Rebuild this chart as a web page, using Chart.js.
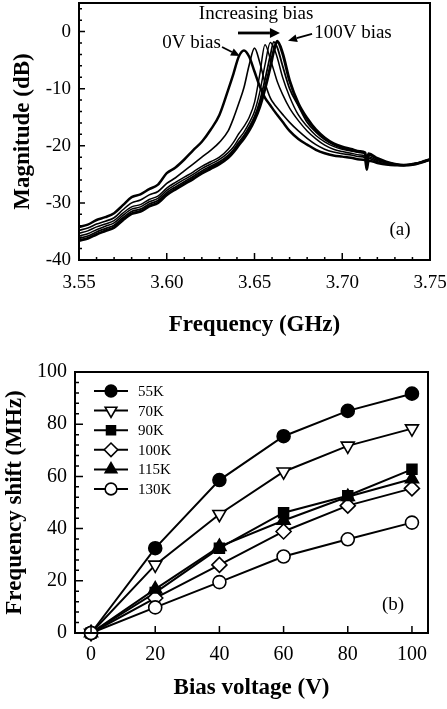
<!DOCTYPE html>
<html><head><meta charset="utf-8">
<script src="https://cdn.jsdelivr.net/npm/chart.js@4.4.1/dist/chart.umd.min.js"></script>
<style>
html,body{margin:0;padding:0;background:#fff;}
#wrap{position:relative;width:447px;height:709px;overflow:hidden;background:#fff;}
canvas{position:absolute;left:0;}
#ca{top:0;} #cb{top:345px;}
</style></head><body>
<div id="wrap"><canvas id="ca" width="447" height="345"></canvas><canvas id="cb" width="447" height="364"></canvas></div>
<script>
// ---------- Panel (a): magnitude vs frequency ----------
const freqGHz = [3.550,3.555,3.560,3.565,3.570,3.575,3.580,3.585,3.590,3.595,3.600,3.605,3.610,3.615,3.620,3.625,3.630,3.635,
  3.638,3.641,3.644,3.647,3.650,3.653,3.656,3.659,
  3.661,3.663,3.666,
  3.670,3.675,3.680,3.685,3.690,3.695,3.700,3.705,3.710,
  3.713,3.714,3.715,
  3.720,3.725,3.730,3.735,3.740,3.745,3.750];
const mag0V = [-34.2,-33.8,-33.0,-32.5,-31.8,-30.4,-29.0,-28.5,-27.6,-26.8,-24.8,-23.8,-22.4,-20.8,-19.3,-17.2,-14.6,-10.2,
  -7.4,-4.4,-3.3,-4.4,-7.0,-9.6,-11.6,-12.9,
  -13.8,-14.6,-15.8,
  -17.4,-18.8,-19.8,-20.7,-21.3,-21.7,-21.9,-22.1,-22.4,
  -22.5,-24.2,-22.6,
  -23.0,-23.3,-23.4,-23.4,-23.2,-22.9,-22.4];
const mag20V = [-34.8,-34.4,-33.7,-33.2,-32.6,-31.2,-30.0,-29.5,-28.6,-28.0,-26.6,-25.6,-24.4,-23.2,-22.0,-20.8,-19.4,-17.4,
  -15.2,-12.6,-9.8,-5.8,-2.9,-5.4,-9.0,-11.6,
  -12.6,-13.4,-14.5,
  -15.9,-17.4,-18.7,-19.8,-20.6,-21.1,-21.4,-21.6,-21.9,
  -22.1,-23.9,-22.2,
  -22.8,-23.2,-23.4,-23.4,-23.2,-22.9,-22.4];
const mag40V = [-35.3,-34.9,-34.2,-33.7,-33.1,-31.8,-30.7,-30.3,-29.4,-28.8,-27.4,-26.4,-25.5,-24.6,-23.6,-22.8,-22.0,-20.6,
  -19.4,-17.9,-16.6,-15.0,-12.4,-7.5,-2.3,-4.8,
  -6.8,-8.8,-11.0,
  -13.4,-15.6,-17.4,-18.8,-19.9,-20.6,-21.0,-21.3,-21.6,
  -21.8,-23.6,-21.9,
  -22.6,-23.0,-23.3,-23.4,-23.2,-22.9,-22.4];
const mag60V = [-35.8,-35.4,-34.7,-34.1,-33.5,-32.2,-31.1,-30.7,-29.8,-29.2,-27.8,-26.8,-25.9,-25.0,-24.0,-23.2,-22.4,-21.2,
  -20.2,-18.8,-17.6,-16.0,-14.0,-10.6,-5.8,-1.9,
  -2.8,-4.6,-8.0,
  -11.4,-14.6,-16.6,-18.2,-19.3,-20.1,-20.6,-20.9,-21.2,
  -21.4,-23.3,-21.6,
  -22.4,-22.9,-23.2,-23.4,-23.3,-22.9,-22.4];
const mag80V = [-36.2,-35.8,-35.1,-34.5,-33.9,-32.6,-31.5,-31.1,-30.2,-29.6,-28.2,-27.2,-26.3,-25.4,-24.4,-23.6,-22.8,-21.7,
  -20.7,-19.4,-18.2,-16.7,-14.9,-12.2,-8.4,-4.2,
  -1.8,-2.8,-6.0,
  -10.0,-13.0,-15.9,-17.6,-18.9,-19.8,-20.4,-20.8,-21.1,
  -21.3,-23.1,-21.5,
  -22.3,-22.9,-23.2,-23.4,-23.3,-22.9,-22.4];
const mag100V = [-36.6,-36.2,-35.5,-34.9,-34.3,-33.0,-31.9,-31.5,-30.6,-30.0,-28.6,-27.6,-26.7,-25.8,-24.8,-24.0,-23.2,-22.1,
  -21.1,-19.9,-18.7,-17.3,-15.5,-13.2,-10.0,-6.2,
  -3.4,-1.7,-3.8,
  -8.6,-12.6,-15.2,-17.2,-18.6,-19.6,-20.2,-20.6,-21.0,
  -21.2,-23.0,-21.4,
  -22.2,-22.8,-23.2,-23.4,-23.3,-22.9,-22.4];
const biasLabels = ['0V','20V','40V','60V','80V','100V'];
const xTicksA = [3.55,3.60,3.65,3.70,3.75];
const yTicksA = [-40,-30,-20,-10,0];

// ---------- Panel (b): frequency shift vs bias ----------
const biasVoltage = [0,20,40,60,80,100];
const tempLabels = ['55K','70K','90K','100K','115K','130K'];
const shift55K  = [0,32.5,58.6,75.4,85.1,91.7];
const shift70K  = [0,26.1,45.5,61.8,71.7,78.3];
const shift90K  = [0,15.5,32.5,46.1,52.6,62.7];
const shift100K = [0,13.4,26.1,38.9,48.8,55.4];
const shift115K = [0,16.8,33.1,43.1,52.2,59.0];
const shift130K = [0,9.8,19.5,29.3,35.9,42.3];
const xTicksB = [0,20,40,60,80,100];
const yTicksB = [0,20,40,60,80,100];

// ---------- helpers ----------
const SERIF = "'Liberation Serif','Times New Roman',serif";
Chart.defaults.font.family = SERIF;
Chart.defaults.color = '#000';

function minorValues(min, max, step, majors){
  const out = [];
  const n = Math.round((max - min) / step);
  for (let i = 0; i <= n; i++) {
    const v = +(min + i * step).toFixed(6);
    if (!majors.some(m => Math.abs(m - v) < step / 10)) out.push(v);
  }
  return out;
}
function frameTicks(cfg){
  return {
    id: 'frameTicks',
    afterDraw(chart){
      const {ctx, chartArea: a, scales: {x, y}} = chart;
      ctx.save();
      ctx.strokeStyle = '#000';
      ctx.lineWidth = cfg.frame;
      ctx.strokeRect(a.left, a.top, a.right - a.left, a.bottom - a.top);
      ctx.lineWidth = cfg.tickW;
      ctx.beginPath();
      cfg.xMajor.forEach(v => { const p = x.getPixelForValue(v); ctx.moveTo(p, a.bottom); ctx.lineTo(p, a.bottom - cfg.xMajLen); });
      cfg.xMinor.forEach(v => { const p = x.getPixelForValue(v); ctx.moveTo(p, a.bottom); ctx.lineTo(p, a.bottom - cfg.minLen); });
      cfg.yMajor.forEach(v => { const p = y.getPixelForValue(v); ctx.moveTo(a.left, p); ctx.lineTo(a.left + cfg.yMajLen, p); });
      cfg.yMinor.forEach(v => { const p = y.getPixelForValue(v); ctx.moveTo(a.left, p); ctx.lineTo(a.left + cfg.minLen, p); });
      ctx.stroke();
      ctx.restore();
    }
  };
}
function arrow(ctx, x0, y0, x1, y1, lw, hl, hw){
  const ang = Math.atan2(y1 - y0, x1 - x0);
  const bx = x1 - hl * Math.cos(ang), by = y1 - hl * Math.sin(ang);
  ctx.lineWidth = lw;
  ctx.beginPath(); ctx.moveTo(x0, y0); ctx.lineTo(bx, by); ctx.stroke();
  ctx.beginPath(); ctx.moveTo(x1, y1);
  ctx.lineTo(bx + hw / 2 * Math.sin(ang), by - hw / 2 * Math.cos(ang));
  ctx.lineTo(bx - hw / 2 * Math.sin(ang), by + hw / 2 * Math.cos(ang));
  ctx.closePath(); ctx.fill();
}

// ---------- Chart (a) ----------
const seriesA = [mag0V, mag20V, mag40V, mag60V, mag80V, mag100V];
const widthsA = [2.5, 1.6, 1.5, 1.5, 1.8, 2.9];
const annotA = {
  id: 'annotA',
  afterDatasetsDraw(chart){
    const {ctx, scales: {x, y}} = chart;
    const X = v => x.getPixelForValue(v), Y = v => y.getPixelForValue(v);
    ctx.save();
    ctx.fillStyle = '#000'; ctx.strokeStyle = '#000';
    ctx.font = '19px ' + SERIF; ctx.textAlign = 'center'; ctx.textBaseline = 'middle';
    ctx.fillText('Increasing bias', X(3.6509), Y(3.0));
    ctx.fillText('0V bias', X(3.6141), Y(-2.0));
    ctx.fillText('100V bias', X(3.7061), Y(-0.25));
    ctx.fillText('(a)', X(3.7329), Y(-34.7));
    arrow(ctx, X(3.6406), Y(-0.25), X(3.6645), Y(-0.25), 2.8, 10, 10);
    arrow(ctx, X(3.6315), Y(-2.7), X(3.6417), Y(-4.3), 1.8, 9, 8);
    arrow(ctx, X(3.6828), Y(-0.4), X(3.6691), Y(-1.6), 1.8, 9, 8);
    ctx.restore();
  }
};
new Chart(document.getElementById('ca'), {
  type: 'line',
  data: {
    datasets: seriesA.map((arr, i) => ({
      label: biasLabels[i],
      data: freqGHz.map((f, k) => ({x: f, y: arr[k]})),
      borderColor: '#000', backgroundColor: '#000', borderWidth: widthsA[i],
      pointRadius: 0, fill: false, cubicInterpolationMode: 'monotone', clip: false
    }))
  },
  options: {
    responsive: false, animation: false, devicePixelRatio: 1,
    layout: {padding: {left: 0, right: 17, top: 3, bottom: 0}},
    plugins: {legend: {display: false}, tooltip: {enabled: false}},
    scales: {
      x: {
        type: 'linear', min: 3.55, max: 3.75,
        afterBuildTicks: s => { s.ticks = xTicksA.map(v => ({value: v})); },
        afterFit: s => { s.height = 85; s.paddingLeft = 0; s.paddingRight = 0; },
        ticks: {font: {size: 19}, padding: 12, maxRotation: 0, autoSkip: false, callback: v => Number(v).toFixed(2)},
        grid: {display: false, drawTicks: false}, border: {display: false},
        title: {display: true, text: 'Frequency (GHz)', font: {size: 23, weight: 'bold'}, padding: {top: 0, bottom: 6}}
      },
      y: {
        type: 'linear', min: -40, max: 5,
        afterBuildTicks: s => { s.ticks = yTicksA.map(v => ({value: v})); },
        afterFit: s => { s.width = 79; s.paddingTop = 0; s.paddingBottom = 0; },
        ticks: {font: {size: 19}, padding: 8, autoSkip: false},
        grid: {display: false, drawTicks: false}, border: {display: false},
        title: {display: true, text: 'Magnitude (dB)', font: {size: 23, weight: 'bold'}, padding: {top: 9, bottom: 0}}
      }
    }
  },
  plugins: [frameTicks({frame: 2, tickW: 1.5, xMajLen: 7, yMajLen: 6, minLen: 3,
    xMajor: xTicksA, xMinor: minorValues(3.55, 3.75, 0.01, xTicksA),
    yMajor: yTicksA, yMinor: minorValues(-40, 4, 2, yTicksA)}), annotA]
});

// ---------- Chart (b) ----------
const seriesB = [shift55K, shift70K, shift90K, shift100K, shift115K, shift130K];
const markerB = [
  {style: 'circle',   rot: 0,   r: 6.5, fill: '#000'},
  {style: 'triangle', rot: 180, r: 7.5, fill: '#fff'},
  {style: 'rect',     rot: 0,   r: 7,   fill: '#000'},
  {style: 'rectRot',  rot: 0,   r: 7.5, fill: '#fff'},
  {style: 'triangle', rot: 0,   r: 7.5, fill: '#000'},
  {style: 'circle',   rot: 0,   r: 6.5, fill: '#fff'}
];
const legendB = {
  id: 'legendB',
  afterDraw(chart){
    const {ctx, chartArea: a, scales: {x, y}} = chart;
    ctx.save();
    chart.data.datasets.forEach((ds, i) => {
      const yy = a.top + 19 + i * 19.6;
      const x0 = a.left + 19, x1 = a.left + 53, xm = (x0 + x1) / 2;
      ctx.strokeStyle = '#000'; ctx.lineWidth = 2;
      ctx.beginPath(); ctx.moveTo(x0, yy); ctx.lineTo(x1, yy); ctx.stroke();
      ctx.fillStyle = ds.pointBackgroundColor; ctx.lineWidth = ds.pointBorderWidth;
      Chart.helpers.drawPoint(ctx, {pointStyle: ds.pointStyle, rotation: ds.pointRotation || 0,
        radius: ds.pointRadius * 0.9, borderWidth: ds.pointBorderWidth}, xm, yy);
      ctx.fillStyle = '#000'; ctx.font = '15px ' + SERIF;
      ctx.textAlign = 'left'; ctx.textBaseline = 'middle';
      ctx.fillText(ds.label, a.left + 63, yy + 1);
    });
    ctx.font = '19px ' + SERIF; ctx.textAlign = 'center'; ctx.fillStyle = '#000';
    ctx.fillText('(b)', x.getPixelForValue(94.1), y.getPixelForValue(10.7));
    ctx.restore();
  }
};
new Chart(document.getElementById('cb'), {
  type: 'line',
  data: {
    datasets: seriesB.map((arr, i) => ({
      label: tempLabels[i],
      data: biasVoltage.map((v, k) => ({x: v, y: arr[k]})),
      borderColor: '#000', borderWidth: 2, fill: false, tension: 0,
      pointStyle: markerB[i].style, pointRotation: markerB[i].rot, pointRadius: markerB[i].r,
      pointBackgroundColor: markerB[i].fill, pointBorderColor: '#000', pointBorderWidth: 1.6,
      clip: false, order: 5 - i
    }))
  },
  options: {
    responsive: false, animation: false, devicePixelRatio: 1,
    layout: {padding: {left: 0, right: 19, top: 27, bottom: 0}},
    plugins: {legend: {display: false}, tooltip: {enabled: false}},
    scales: {
      x: {
        type: 'linear', min: -5, max: 105,
        afterBuildTicks: s => { s.ticks = xTicksB.map(v => ({value: v})); },
        afterFit: s => { s.height = 76; s.paddingLeft = 0; s.paddingRight = 0; },
        ticks: {font: {size: 20}, padding: 10, maxRotation: 0, autoSkip: false},
        grid: {display: false, drawTicks: false}, border: {display: false},
        title: {display: true, text: 'Bias voltage (V)', font: {size: 23, weight: 'bold'}, padding: {top: 0, bottom: 7}}
      },
      y: {
        type: 'linear', min: 0, max: 100,
        afterBuildTicks: s => { s.ticks = yTicksB.map(v => ({value: v})); },
        afterFit: s => { s.width = 75; s.paddingTop = 0; s.paddingBottom = 0; },
        ticks: {font: {size: 20}, padding: 8, autoSkip: false},
        grid: {display: false, drawTicks: false}, border: {display: false},
        title: {display: true, text: 'Frequency shift (MHz)', font: {size: 23, weight: 'bold'}, padding: {top: 1, bottom: 0}}
      }
    }
  },
  plugins: [frameTicks({frame: 2, tickW: 1.5, xMajLen: 7, yMajLen: 8, minLen: 4,
    xMajor: xTicksB, xMinor: [],
    yMajor: yTicksB, yMinor: minorValues(0, 100, 4, yTicksB)}), legendB]
});
</script>
</body></html>
